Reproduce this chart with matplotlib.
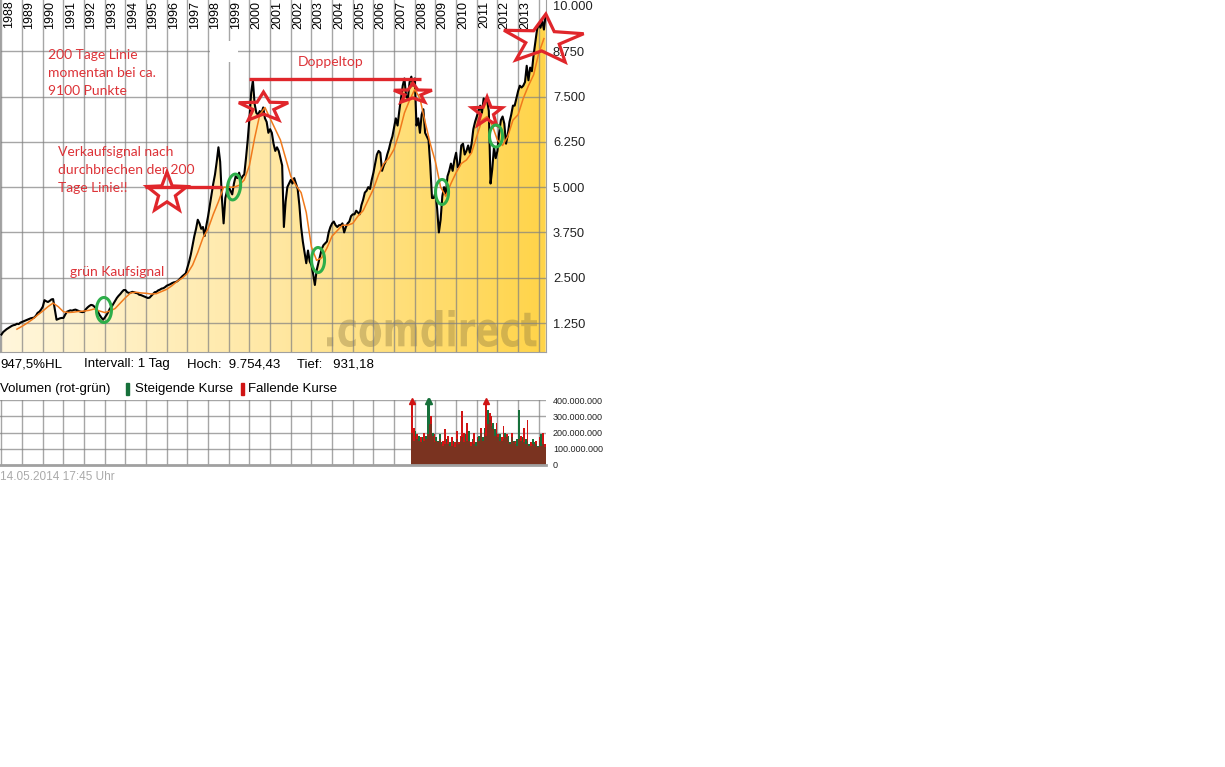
import numpy as np
import matplotlib
matplotlib.use("Agg")
import matplotlib.pyplot as plt
from matplotlib.colors import LinearSegmentedColormap
from matplotlib.patches import Polygon, Rectangle, PathPatch
from matplotlib.textpath import TextPath
from matplotlib.font_manager import FontProperties
from matplotlib.transforms import Affine2D, blended_transform_factory

# ---------------------------------------------------------------- data
# DAX, one value per month, Jan 1988 .. May 2014 (index points)
first_year = 1988
dax_1988 = [931.18, 1000, 1040, 1080, 1110, 1140, 1170, 1190, 1200, 1230, 1220, 1260]
dax_1989 = [1280, 1300, 1320, 1340, 1360, 1380, 1390, 1400, 1450, 1530, 1560, 1620]
dax_1990 = [1700, 1880, 1850, 1830, 1860, 1900, 1910, 1620, 1340, 1360, 1380, 1390]
dax_1991 = [1390, 1480, 1560, 1580, 1600, 1590, 1610, 1620, 1600, 1580, 1560, 1550]
dax_1992 = [1560, 1630, 1680, 1720, 1750, 1740, 1700, 1640, 1560, 1470, 1400, 1340]
dax_1993 = [1400, 1470, 1550, 1650, 1700, 1780, 1860, 1940, 2000, 2050, 2110, 2160]
dax_1994 = [2160, 2100, 2080, 2090, 2110, 2100, 2080, 2070, 2030, 2020, 2000, 1980]
dax_1995 = [1960, 1940, 1950, 2000, 2050, 2100, 2110, 2150, 2170, 2200, 2210, 2240]
dax_1996 = [2280, 2300, 2320, 2350, 2370, 2380, 2400, 2440, 2490, 2540, 2580, 2620]
dax_1997 = [2780, 2950, 3150, 3400, 3650, 3850, 4100, 4000, 3850, 3900, 3650, 3950]
dax_1998 = [4200, 4500, 4800, 5100, 5350, 5700, 6100, 5700, 4700, 4000, 4700, 4900]
dax_1999 = [5000, 4900, 4800, 5100, 5300, 5250, 5400, 5200, 5300, 5350, 5800, 6300]
dax_2000 = [6900, 7600, 7950, 7300, 7050, 7000, 7100, 7050, 7200, 6900, 6800, 6500]
dax_2001 = [6600, 6500, 6200, 6000, 6100, 6000, 5800, 5600, 3900, 4600, 5000, 5100]
dax_2002 = [5200, 5100, 5250, 5100, 4950, 4500, 3900, 3500, 3200, 2900, 3250, 2950]
dax_2003 = [2850, 2600, 2300, 2700, 2900, 3100, 3300, 3400, 3450, 3500, 3750, 3900]
dax_2004 = [4000, 4050, 3950, 3900, 3950, 3950, 4000, 3750, 3900, 4000, 4050, 4200]
dax_2005 = [4250, 4250, 4350, 4300, 4250, 4500, 4650, 4850, 4900, 5000, 4950, 5200]
dax_2006 = [5400, 5650, 5900, 6000, 5950, 5450, 5600, 5700, 5900, 6050, 6250, 6400]
dax_2007 = [6650, 6900, 6700, 7100, 7450, 7800, 8000, 7500, 7450, 7900, 8050, 7800]
dax_2008 = [8000, 6700, 6900, 6500, 7000, 7150, 6500, 6400, 6300, 5600, 4700, 4700]
dax_2009 = [4850, 4400, 3750, 4100, 4750, 5000, 4800, 5300, 5450, 5650, 5450, 5750]
dax_2010 = [5950, 5550, 5600, 6150, 6200, 5900, 6000, 6150, 5950, 6200, 6600, 6800]
dax_2011 = [6950, 7100, 7250, 7050, 7450, 7350, 7400, 7100, 5100, 5500, 6100, 5800]
dax_2012 = [6000, 6500, 6850, 6950, 6750, 6200, 6450, 6800, 7000, 7250, 7250, 7450]
dax_2013 = [7650, 7800, 7750, 7800, 7900, 8350, 7950, 8300, 8200, 8650, 9000, 9350]
dax_2014 = [9500, 9400, 9600, 9350, 9754.43]

# 200-Tage-Linie, one value per quarter starting Oct 1988
ma_first = 1988.75
ma200 = [1080,
         1160, 1250, 1350, 1470,
         1580, 1700, 1800, 1700,
         1560, 1540, 1550, 1570,
         1580, 1600, 1640, 1580,
         1540, 1580, 1650, 1800,
         1950, 2080, 2100, 2080,
         2070, 2050, 2060, 2120,
         2180, 2280, 2400, 2490,
         2620, 2850, 3200, 3600,
         3850, 4250, 4600, 5000,
         5000, 5000, 5050, 5200,
         5600, 6350, 7000, 7200,
         6900, 6600, 6300, 5800,
         5300, 5050, 4850, 4300,
         3350, 2980, 3050, 3320,
         3650, 3800, 3950, 3950,
         4000, 4200, 4350, 4650,
         4950, 5350, 5650, 5800,
         6050, 6500, 7050, 7400,
         7700, 7450, 6800, 6200,
         5700, 5000, 4750, 5100,
         5400, 5650, 5750, 5950,
         6400, 6850, 6950, 6700,
         6300, 6150, 6400, 6850,
         7000, 7450, 7800, 8100,
         8700, 9100]

year_labels = list(range(1988, 2014))
year_grid = list(range(1988, 2015))
price_ticks = [1250, 2500, 3750, 5000, 6250, 7500, 8750, 10000]

# monthly volume (Mio.), Nov 2007 .. May 2014
vol_first = 2007 + 10 / 12
vol_rising = [200, 150, 210, 160, 180, 140, 170, 150, 180, 430, 430, 250, 200, 140,
              170, 150, 190, 140, 120, 130, 160, 130, 140, 120, 150, 110, 160, 130,
              150, 170, 140, 190, 150, 210, 120, 160, 130, 140, 160, 180, 200, 170,
              230, 180, 340, 280, 240, 260, 220, 200, 170, 190, 150, 160, 200, 170,
              180, 140, 170, 150, 130, 160, 340, 150, 170, 140, 160, 150, 130, 120,
              160, 140, 130, 120, 150, 190, 130, 110, 120]
vol_falling = [430, 230, 180, 190, 150, 170, 140, 200, 160, 190, 250, 300, 180, 190,
               150, 140, 160, 130, 150, 220, 140, 180, 120, 170, 130, 140, 210, 140,
               180, 330, 200, 150, 260, 150, 140, 150, 200, 120, 170, 150, 230, 150,
               200, 410, 250, 320, 300, 220, 180, 260, 190, 150, 170, 240, 170, 190,
               150, 130, 200, 140, 150, 120, 160, 180, 140, 230, 130, 280, 120, 140,
               130, 120, 150, 110, 170, 120, 200, 130, 100]
vol_ticks = [0, 100, 200, 300, 400]

# hand-drawn markings: (year, index level)
sell_line = (1994.95, 1998.67, 5004)
double_top_line = (1999.98, 2008.30, 7984)
stars = [(1996.01, 4838, 21, 21, 0), (2000.68, 7198, 26, 15.5, 0),
         (2007.91, 7584, 20, 10.5, 0), (2011.50, 7060, 16, 15.5, 0),
         (2014.20, 9061, 42, 26, -4)]
rings = [(1992.96, 1609, 15, 25, 0), (1999.25, 5004, 13, 26, -8),
         (2003.32, 2989, 13, 25, 0), (2009.32, 4866, 13, 25, 0),
         (2011.93, 6411, 13, 22, 0)]
notes = [(1990.25, 8810, "200 Tage Linie\nmomentan bei ca.\n9100 Punkte"),
         (2002.35, 8620, "Doppeltop"),
         (1990.74, 6140, "Verkaufsignal nach\ndurchbrechen der 200\nTage Linie!!"),
         (1991.32, 2830, "grün Kaufsignal")]

# ---------------------------------------------------------------- style
W, H = 1225, 767
SANS = ["Liberation Sans", "DejaVu Sans"]
HAND = ["Lato", "DejaVu Sans"]
GRID = "#808080"
RED = "#E0262B"
TXT_RED = "#DD3338"
GREEN = "#2EAE4A"
VGREEN = "#16703A"
VRED = "#D01414"
VMIX = "#7A3320"


def box(l, t, r, b):
    return [l / W, 1 - b / H, (r - l) / W, (b - t) / H]


def de(v, dec=0):
    s = f"{v:,.{dec}f}"
    return s.replace(",", "X").replace(".", ",").replace("X", ".")


fig = plt.figure(figsize=(W / 100, H / 100), dpi=100)
fig.patch.set_facecolor("white")

# ---------------------------------------------------------------- price panel
X0, X1 = 1987.93, 2014.35
Y0, Y1 = 449.6, 10165.6
ax = fig.add_axes(box(0, 0, 546, 352))
ax.set_xlim(X0, X1)
ax.set_ylim(Y0, Y1)

price = np.array(dax_1988 + dax_1989 + dax_1990 + dax_1991 + dax_1992 + dax_1993 +
                 dax_1994 + dax_1995 + dax_1996 + dax_1997 + dax_1998 + dax_1999 +
                 dax_2000 + dax_2001 + dax_2002 + dax_2003 + dax_2004 + dax_2005 +
                 dax_2006 + dax_2007 + dax_2008 + dax_2009 + dax_2010 + dax_2011 +
                 dax_2012 + dax_2013 + dax_2014)
t = first_year + np.arange(len(price)) / 12
tm = ma_first + np.arange(len(ma200)) * 0.25

# golden area under the price, brightening from left to right
cmap = LinearSegmentedColormap.from_list("gold", ["#FFF6DC", "#FFE8A4", "#FFD449"])
grad = np.linspace(0, 1, 512).reshape(1, -1)
im = ax.imshow(grad, extent=[X0, X1, Y0, Y1], aspect="auto", cmap=cmap,
               origin="lower", interpolation="bilinear", zorder=1)
area = Polygon(np.column_stack([np.r_[t[0], t, t[-1]], np.r_[Y0, price, Y0]]),
               closed=True, facecolor="none", edgecolor="none")
ax.add_patch(area)
im.set_clip_path(area)
ax.set_xlim(X0, X1)
ax.set_ylim(Y0, Y1)

# watermark
tp = TextPath((0, 0), ".comdirect", size=100,
              prop=FontProperties(family="DejaVu Sans", weight="bold"))
bb = tp.get_extents()
wm_l, wm_base, wm_w, wm_h = 327, 347, 210, 37
wm_tr = (Affine2D().translate(-bb.x0, -bb.y0)
         .scale(wm_w / bb.width / 100, wm_h / bb.height / 100)
         .translate(wm_l / 100, (H - wm_base) / 100) + fig.dpi_scale_trans)
ax.add_patch(PathPatch(tp, transform=wm_tr, facecolor=(0.55, 0.47, 0.25, 0.38),
                       edgecolor="none", zorder=1.5))

# grid
for y in year_grid:
    ax.axvline(y, color=GRID, lw=1, alpha=0.7, zorder=2)
for v in price_ticks[:-1]:
    ax.axhline(v, color=GRID, lw=1, alpha=0.7, zorder=2)
ax.add_patch(Rectangle((1998.09, 8454), 1.36, 579, facecolor="white",
                       edgecolor="none", zorder=2.2))

ax.plot(t, price, color="black", lw=1.5, zorder=3)
ax.plot(tm, ma200, color="#F07A1C", lw=1.1, zorder=4)

yl_tr = blended_transform_factory(ax.transData, ax.transAxes)
for y in year_labels:
    ax.text(y + 0.06, 0.998, str(y), transform=yl_tr, rotation=90, ha="left",
            va="top", fontsize=9, family=SANS, color="black", zorder=5)

ax.set_xticks([])
ax.set_yticks(price_ticks)
ax.set_yticklabels([de(v) for v in price_ticks], family=SANS)
ax.yaxis.tick_right()
ax.tick_params(axis="y", length=0, pad=5, labelsize=9.3, labelcolor="#222222")
ax.spines["top"].set_visible(False)
for s in ("left", "right", "bottom"):
    ax.spines[s].set_color("#A0A0A0")


# ---------------------------------------------------------------- markings
def outline(cx, cy, xs, ys, **kw):
    px, py = ax.transData.transform((cx, cy))
    verts = ax.transData.inverted().transform(np.column_stack([px + xs, py + ys]))
    ax.add_patch(Polygon(verts, closed=True, fill=False, clip_on=False, **kw))


def star(cx, cy, rx, ry, rot):
    k = np.arange(10)
    ang = np.deg2rad(90 + rot + 36 * k)
    r = np.where(k % 2 == 0, 1.0, 0.42)
    outline(cx, cy, rx * r * np.cos(ang), ry * r * np.sin(ang),
            edgecolor=RED, lw=2.3, joinstyle="miter", zorder=7)


def ring(cx, cy, w, h, rot):
    a = np.linspace(0, 2 * np.pi, 73)
    x, y = w / 2 * np.cos(a), h / 2 * np.sin(a)
    c, s = np.cos(np.deg2rad(rot)), np.sin(np.deg2rad(rot))
    outline(cx, cy, c * x - s * y, s * x + c * y, edgecolor=GREEN, lw=2.2, zorder=7)


for x0, x1, lvl in (sell_line, double_top_line):
    ax.plot([x0, x1], [lvl, lvl], color=RED, lw=2.4, solid_capstyle="butt",
            zorder=6, clip_on=False)
for s in stars:
    star(*s)
for r in rings:
    ring(*r)
for x, y, txt in notes:
    ax.text(x, y, txt, ha="left", va="top", fontsize=10, family=HAND,
            color=TXT_RED, linespacing=1.6, zorder=8)

# ---------------------------------------------------------------- info rows
hoch, tief = price.max(), price.min()
spread = (hoch / tief - 1) * 100
row1 = 364
fig.text(0 / W, 1 - row1 / H, f"{de(spread, 1)}%HL", ha="left", va="center",
         fontsize=9.5, family=SANS)
fig.text(84 / W, 1 - row1 / H, "Intervall: 1 Tag", ha="left", va="center",
         fontsize=9.5, family=SANS)
fig.text(187 / W, 1 - row1 / H, f"Hoch:  {de(hoch, 2)}", ha="left", va="center",
         fontsize=9.5, family=SANS)
fig.text(297 / W, 1 - row1 / H, f"Tief:   {de(tief, 2)}", ha="left", va="center",
         fontsize=9.5, family=SANS)

row2 = 389
fig.text(0 / W, 1 - row2 / H, "Volumen (rot-grün)", ha="left", va="center",
         fontsize=9.5, family=SANS)
fig.patches.append(Rectangle((126 / W, 1 - 395 / H), 3 / W, 12 / H,
                             transform=fig.transFigure, color=VGREEN))
fig.text(135 / W, 1 - row2 / H, "Steigende Kurse", ha="left", va="center",
         fontsize=9.5, family=SANS)
fig.patches.append(Rectangle((241 / W, 1 - 395 / H), 3 / W, 12 / H,
                             transform=fig.transFigure, color=VRED))
fig.text(248 / W, 1 - row2 / H, "Fallende Kurse", ha="left", va="center",
         fontsize=9.5, family=SANS)

fig.text(0 / W, 1 - 477 / H, "14.05.2014 17:45 Uhr", ha="left", va="center",
         fontsize=8.5, family=SANS, color="#AAAAAA")

# ---------------------------------------------------------------- volume panel
vax = fig.add_axes(box(0, 400, 546, 465))
vax.set_xlim(X0, X1)
vax.set_ylim(0, 400)
for y in year_grid:
    vax.axvline(y, color=GRID, lw=1, alpha=0.7, zorder=1)
for v in vol_ticks[1:]:
    vax.axhline(v, color=GRID, lw=1, alpha=0.7, zorder=1)

vt = vol_first + np.arange(len(vol_rising)) / 12
rising = np.array(vol_rising)
falling = np.array(vol_falling)
# densely packed daily bars blend to brown where both colours overlap;
# the part above the smaller of the two shows the dominant colour
common = np.minimum(rising, falling)
vax.bar(vt, common, width=1 / 12, align="edge", color=VMIX, lw=0, zorder=2)
vax.bar(vt, rising - common, bottom=common, width=1 / 12, align="edge",
        color=VGREEN, lw=0, zorder=2)
vax.bar(vt, falling - common, bottom=common, width=1 / 12, align="edge",
        color=VRED, lw=0, zorder=2)
over_r = rising > vol_ticks[-1]
over_f = falling > vol_ticks[-1]
vax.plot(vt[over_r] + 1 / 24, np.full(over_r.sum(), 396), ls="none", marker="^",
         ms=5, color=VGREEN, clip_on=False, zorder=3)
vax.plot(vt[over_f] + 1 / 24, np.full(over_f.sum(), 396), ls="none", marker="^",
         ms=5, color=VRED, clip_on=False, zorder=3)

vax.set_xticks([])
vax.set_yticks(vol_ticks)
vax.set_yticklabels([de(v * 1_000_000) for v in vol_ticks], family=SANS)
vax.yaxis.tick_right()
vax.tick_params(axis="y", length=0, pad=5, labelsize=6.5, labelcolor="#222222")
for s in ("top", "left", "right"):
    vax.spines[s].set_visible(False)
vax.spines["bottom"].set_color("#A0A0A0")
vax.spines["bottom"].set_linewidth(2)

fig.savefig("out.png", dpi=100)
